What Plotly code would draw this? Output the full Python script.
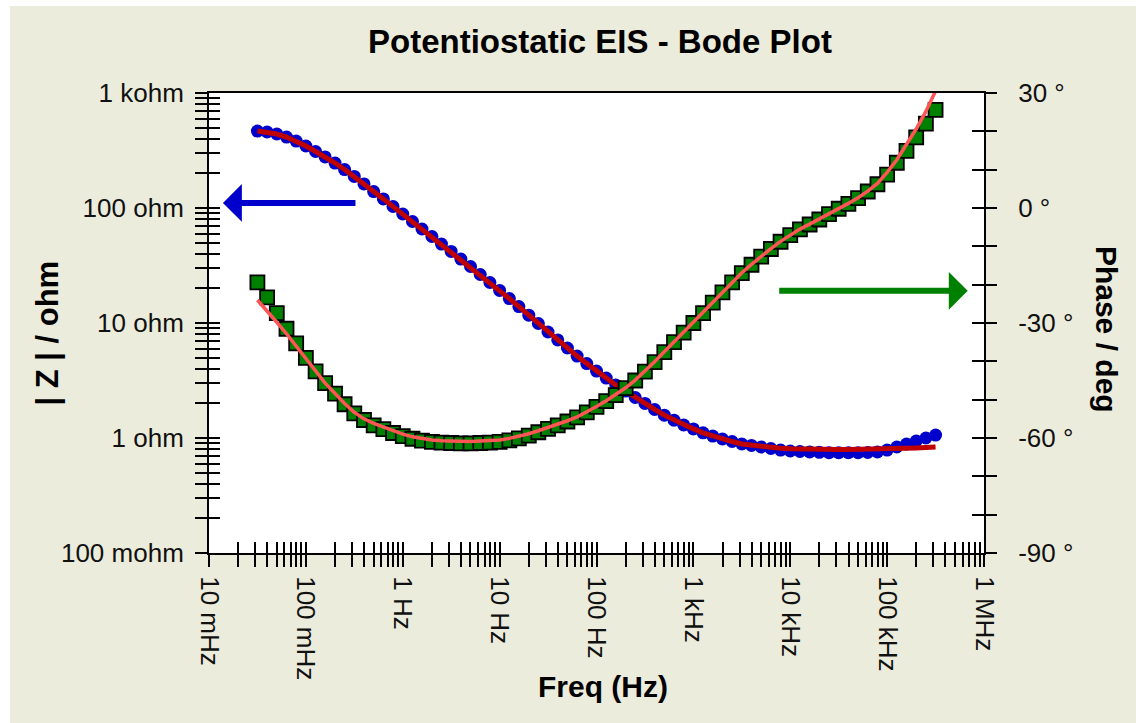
import plotly.graph_objects as go

# ---------------- data ----------------
freq = [0.0316, 0.0398, 0.0501, 0.0631, 0.0794, 0.1, 0.126, 0.158, 0.2, 0.251,
        0.316, 0.398, 0.501, 0.631, 0.794, 1.0, 1.26, 1.58, 2.0, 2.51,
        3.16, 3.98, 5.01, 6.31, 7.94, 10.0, 12.6, 15.8, 20.0, 25.1,
        31.6, 39.8, 50.1, 63.1, 79.4, 100, 126, 158, 200, 251,
        316, 398, 501, 631, 794, 1000, 1259, 1585, 1995, 2512,
        3162, 3981, 5012, 6310, 7943, 10000, 12589, 15849, 19953, 25119,
        31623, 39811, 50119, 63096, 79433, 100000, 125893, 158489, 199526, 251189,
        316228]

z_mod = [467, 458, 440, 414, 382, 346, 310, 278, 246, 216,
         188, 162, 139, 120, 103, 88.7, 76.3, 65.7, 56.5, 48.6,
         41.9, 36.0, 31.0, 26.4, 22.5, 19.2, 16.3, 13.9, 11.7, 9.90,
         8.35, 7.12, 6.06, 5.16, 4.44, 3.82, 3.32, 2.89, 2.56, 2.25,
         2.00, 1.77, 1.58, 1.43, 1.30, 1.20, 1.11, 1.04, 0.980, 0.932,
         0.887, 0.861, 0.835, 0.810, 0.786, 0.771, 0.763, 0.756, 0.750, 0.745,
         0.745, 0.745, 0.745, 0.748, 0.756, 0.786, 0.835, 0.887, 0.942, 1.00,
         1.06]

z_fit = [467, 458, 440, 414, 382, 346, 310, 278, 246, 216,
         188, 162, 139, 120, 103, 88.7, 76.3, 65.7, 56.5, 48.6,
         41.9, 36.0, 31.0, 26.4, 22.5, 19.2, 16.3, 13.9, 11.7, 9.90,
         8.35, 7.12, 6.06, 5.16, 4.44, 3.82, 3.32, 2.89, 2.56, 2.25,
         2.00, 1.77, 1.58, 1.43, 1.30, 1.20, 1.11, 1.04, 0.980, 0.932,
         0.887, 0.865, 0.845, 0.828, 0.815, 0.806, 0.800, 0.796, 0.794, 0.793,
         0.793, 0.793, 0.794, 0.796, 0.799, 0.803, 0.808, 0.813, 0.819, 0.826,
         0.834]

phase = [-19.4, -23.3, -27.4, -31.5, -35.3, -39.1, -42.6, -45.7, -48.4, -51.2,
         -53.6, -55.3, -56.7, -57.7, -58.7, -59.5, -60.2, -60.7, -61.0, -61.2,
         -61.3, -61.4, -61.4, -61.3, -61.2, -61.0, -60.6, -60.1, -59.4, -58.5,
         -57.6, -56.7, -55.7, -54.6, -53.3, -51.9, -50.4, -48.8, -47.0, -45.0,
         -42.7, -40.2, -37.6, -35.0, -32.5, -30.0, -27.4, -24.7, -22.0, -19.4,
         -17.0, -14.8, -12.7, -10.7, -8.8, -7.1, -5.6, -4.3, -3.0, -1.6,
         -0.2, 1.1, 2.6, 4.3, 6.2, 8.7, 11.8, 14.9, 18.4, 22.0,
         25.6]

phase_fit = [-24.0, -26.8, -29.8, -32.8, -36.0, -39.3, -42.6, -45.7, -48.4, -51.0,
             -53.3, -55.0, -56.2, -57.2, -58.2, -59.0, -59.7, -60.2, -60.5, -60.7,
             -60.8, -60.9, -60.9, -60.8, -60.7, -60.5, -60.1, -59.6, -58.9, -58.1,
             -57.3, -56.5, -55.5, -54.5, -53.2, -51.8, -50.3, -48.7, -46.9, -44.9,
             -42.6, -40.1, -37.5, -34.9, -32.4, -29.9, -27.3, -24.6, -21.9, -19.3,
             -16.9, -14.7, -12.6, -10.6, -8.7, -7.0, -5.5, -4.2, -2.9, -1.5,
             -0.1, 1.2, 2.7, 4.4, 6.4, 9.3, 12.6, 16.4, 20.6, 25.2,
             30.5]

x_decades = [0.01, 0.1, 1, 10, 100, 1e3, 1e4, 1e5, 1e6]
x_labels = ["10 mHz", "100 mHz", "1 Hz", "10 Hz", "100 Hz", "1 kHz", "10 kHz", "100 kHz", "1 MHz"]
z_decades = [0.1, 1, 10, 100, 1000]
z_labels = ["100 mohm", "1 ohm", "10 ohm", "100 ohm", "1 kohm"]
phase_ticks = [-90, -80, -70, -60, -50, -40, -30, -20, -10, 0, 10, 20, 30]
phase_labels = ["-90 °", "", "", "-60 °", "", "", "-30 °", "", "", "0 °", "", "", "30 °"]


def log_ticks(decades, labels):
    vals, texts = [], []
    for i, d in enumerate(decades):
        vals.append(d)
        texts.append(labels[i])
        if i < len(decades) - 1:
            for k in range(2, 10):
                vals.append(d * k)
                texts.append("")
    return vals, texts


xt, xtt = log_ticks(x_decades, x_labels)
yt, ytt = log_ticks(z_decades, z_labels)

BEIGE = "#ECECDC"
TICKFONT = dict(family="Liberation Sans, Arial, sans-serif", size=26, color="#111111")
TITLEFONT = dict(family="Liberation Sans, Arial, sans-serif", size=30, color="#000000")

fig = go.Figure()

fig.add_trace(go.Scatter(x=freq, y=z_mod, mode="markers", xaxis="x", yaxis="y",
                         marker=dict(symbol="circle", size=13, color="#0000CC", line=dict(width=0)),
                         showlegend=False, hoverinfo="skip"))
fig.add_trace(go.Scatter(x=freq, y=z_fit, mode="lines", xaxis="x", yaxis="y",
                         line=dict(color="#C00000", width=5), showlegend=False, hoverinfo="skip"))
fig.add_trace(go.Scatter(x=freq, y=phase, mode="markers", xaxis="x", yaxis="y2",
                         marker=dict(symbol="square", size=14, color="#008000",
                                     line=dict(color="#000000", width=1.8)),
                         showlegend=False, hoverinfo="skip"))
fig.add_trace(go.Scatter(x=freq, y=phase_fit, mode="lines", xaxis="x", yaxis="y2",
                         line=dict(color="#FF5555", width=3.5), showlegend=False, hoverinfo="skip"))
# empty helper traces so the inner-tick axes are drawn
fig.add_trace(go.Scatter(x=[None], y=[None], xaxis="x3", yaxis="y3", showlegend=False, hoverinfo="skip"))
fig.add_trace(go.Scatter(x=[None], y=[None], xaxis="x3", yaxis="y4", showlegend=False, hoverinfo="skip"))

tick_common = dict(tickwidth=2, tickcolor="#000000", showgrid=False, zeroline=False)

fig.update_layout(
    width=1136, height=723,
    margin=dict(l=209, r=152, t=93, b=170),
    paper_bgcolor=BEIGE, plot_bgcolor="#FFFFFF",
    xaxis=dict(type="log", range=[-2, 6], tickmode="array", tickvals=xt, ticktext=xtt,
               tickangle=90, ticks="outside", ticklen=12, showline=True, linewidth=2,
               linecolor="#000000", mirror=True, tickfont=TICKFONT, ticklabelstandoff=4,
               **tick_common),
    xaxis3=dict(type="log", range=[-2, 6], overlaying="x", anchor="y", side="bottom",
                tickmode="array", tickvals=xt, ticks="inside", ticklen=11,
                showticklabels=False, showline=False, **tick_common),
    yaxis=dict(type="log", range=[-1, 3], tickmode="array", tickvals=yt, ticktext=ytt,
               ticks="outside", ticklen=12, showline=True, linewidth=2, linecolor="#000000",
               tickfont=TICKFONT, ticklabelstandoff=6, **tick_common),
    yaxis3=dict(type="log", range=[-1, 3], overlaying="y", anchor="x", side="left",
                tickmode="array", tickvals=yt, ticks="inside", ticklen=11,
                showticklabels=False, showline=False, **tick_common),
    yaxis2=dict(range=[-90, 30], overlaying="y", anchor="x", side="right",
                tickmode="array", tickvals=phase_ticks, ticktext=phase_labels,
                ticks="outside", ticklen=11, showline=True, linewidth=2, linecolor="#000000",
                tickfont=TICKFONT, ticklabelstandoff=16, **tick_common),
    yaxis4=dict(range=[-90, 30], overlaying="y", anchor="x", side="right",
                tickmode="array", tickvals=phase_ticks, ticks="inside", ticklen=12,
                showticklabels=False, showline=False, **tick_common),
)

# white strips at the top and left edge of the picture
fig.add_shape(type="rect", xref="paper", yref="paper", x0=-0.40, x1=(10 - 209) / 775,
              y0=-0.50, y1=1.40, fillcolor="#FFFFFF", line=dict(width=0), layer="below")
fig.add_shape(type="rect", xref="paper", yref="paper", x0=-0.40, x1=1.40,
              y0=(553 - 6) / 460, y1=1.40, fillcolor="#FFFFFF", line=dict(width=0), layer="below")

annotations = [
    dict(text="<b>Potentiostatic EIS - Bode Plot</b>", x=0.5045, y=1.1109, xref="paper", yref="paper",
         showarrow=False, xanchor="center", yanchor="middle",
         font=dict(family="Liberation Sans, Arial, sans-serif", size=33, color="#000000")),
    dict(text="<b>| Z | / ohm</b>", x=-0.2084, y=0.478, xref="paper", yref="paper",
         showarrow=False, textangle=-90, xanchor="center", yanchor="middle",
         font=dict(family="Liberation Sans, Arial, sans-serif", size=31, color="#000000")),
    dict(text="<b>Phase / deg</b>", x=1.1574, y=0.485, xref="paper", yref="paper",
         showarrow=False, textangle=90, xanchor="center", yanchor="middle", font=TITLEFONT),
    dict(text="<b>Freq (Hz)</b>", x=0.5084, y=-0.2913, xref="paper", yref="paper",
         showarrow=False, xanchor="center", yanchor="middle", font=TITLEFONT),
    # arrows pointing to the axes
    dict(text="", x=0.018, y=0.761, xref="paper", yref="paper", ax=134, ay=0,
         showarrow=True, arrowhead=1, arrowsize=1.05, arrowwidth=6, arrowcolor="#0000CC", standoff=0),
    dict(text="", x=0.979, y=0.570, xref="paper", yref="paper", ax=-190, ay=0,
         showarrow=True, arrowhead=1, arrowsize=1.05, arrowwidth=6, arrowcolor="#008000", standoff=0),
]
fig.update_layout(annotations=annotations)

fig.write_html("out.html", config={"displayModeBar": False},
               post_script="document.body.style.margin='0';")
